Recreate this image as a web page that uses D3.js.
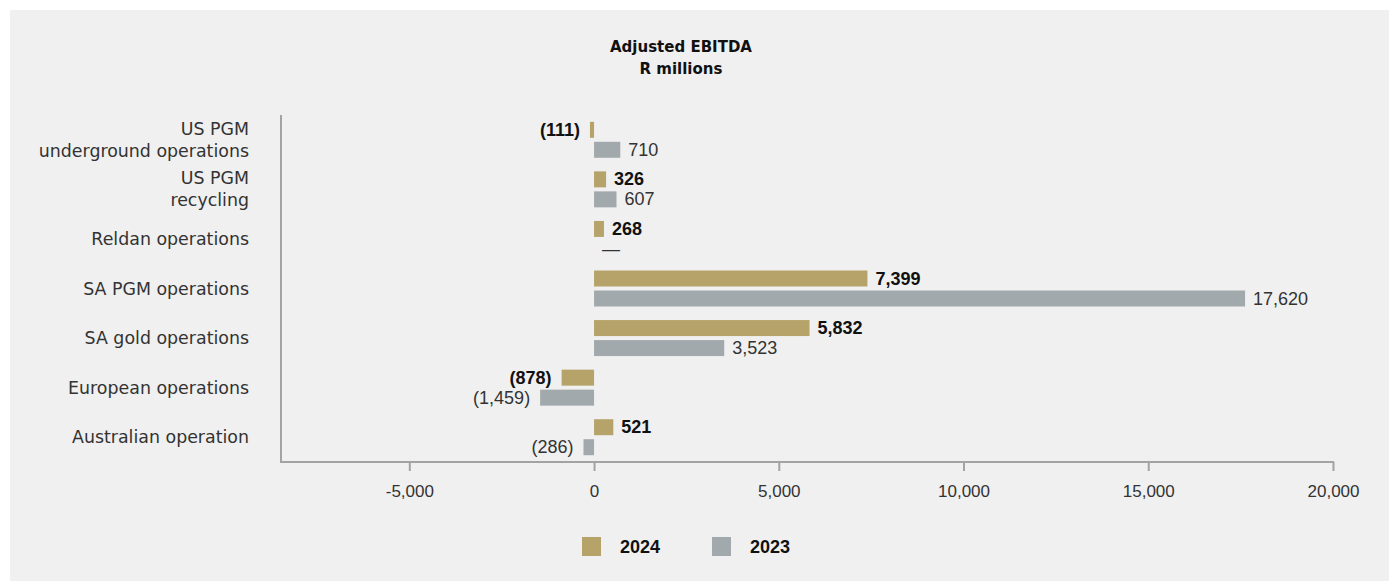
<!DOCTYPE html>
<html>

<head>
    <meta charset="utf-8">
    <style>
        body {
            margin: 0;
            background: white;
        }

        svg {
            display: block;
        }

        .x .domain {
            display: none;
        }

        .x .tick line {
            stroke: #a3a3a3;
            stroke-width: 2px;
        }

        .x .tick text {
            font-family: 'Liberation Sans', Arial, sans-serif;
            font-size: 17px;
            fill: #333;
        }

        .cat text {
            font-family: 'DejaVu Sans', sans-serif;
            font-size: 17.4px;
            fill: #333;
        }
    </style>
</head>

<body>
    <svg width="1389" height="581"></svg>
</body>

<script src="https://d3js.org/d3.v7.min.js"></script>

<script>

    // data
    let categories = [
        ["US PGM", "underground operations"],
        ["US PGM", "recycling"],
        ["Reldan operations"],
        ["SA PGM operations"],
        ["SA gold operations"],
        ["European operations"],
        ["Australian operation"]
    ]
    let values2024 = [-111, 326, 268, 7399, 5832, -878, 521]
    let values2023 = [710, 607, 0, 17620, 3523, -1459, -286]
    let seriesNames = ["2024", "2023"]
    let tickValues = [-5000, 0, 5000, 10000, 15000, 20000]
    let tickLabels = ["-5,000", "0", "5,000", "10,000", "15,000", "20,000"]

    let gold = "#b5a36a"
    let grey = "#a2a9ac"

    let svg = d3.select("svg")

    // grey panel
    svg.append("rect")
        .attr("x", 10)
        .attr("y", 10)
        .attr("width", 1379)
        .attr("height", 571)
        .style("fill", "#f0f0f0")

    let x = d3.scaleLinear()
        .domain([-8500, 20000])
        .range([280, 1333])

    let y = d3.scaleBand()
        .domain(d3.range(categories.length))
        .range([115, 462])

    let fmt = d3.format(",")
    function label(v) {
        if (v === 0) return "\u2014"
        if (v < 0) return "(" + fmt(-v) + ")"
        return fmt(v)
    }

    // axes lines
    svg.append("line")
        .attr("x1", 281).attr("x2", 281)
        .attr("y1", 115).attr("y2", 462)
        .style("stroke", "#a3a3a3")
        .style("stroke-width", 2)

    svg.append("line")
        .attr("x1", 280).attr("x2", x(20000) + 1)
        .attr("y1", 462).attr("y2", 462)
        .style("stroke", "#a3a3a3")
        .style("stroke-width", 2)

    let xAxis = d3.axisBottom(x)
        .tickValues(tickValues)
        .tickFormat((d, i) => tickLabels[i])
        .tickSize(9)
        .tickPadding(14)

    svg.append("g")
        .attr("class", "x axis")
        .attr("transform", "translate(0,462)")
        .call(xAxis)

    // category labels
    let cat = svg.append("g").attr("class", "cat")
    categories.forEach(function (lines, i) {
        let cy = y(i) + y.bandwidth() / 2
        let t = cat.append("text")
            .attr("text-anchor", "end")
            .attr("x", 249)
            .attr("y", cy)
        lines.forEach(function (line, j) {
            t.append("tspan")
                .attr("x", 249)
                .attr("y", cy + 6 + (j - (lines.length - 1) / 2) * 22)
                .text(line)
        })
    })

    // bars
    let barH = 16
    let series = [values2024, values2023]
    series.forEach(function (vals, s) {
        vals.forEach(function (v, i) {
            let cy = y(i) + y.bandwidth() / 2
            let top = s === 0 ? cy - 18 : cy + 2
            svg.append("rect")
                .attr("x", x(Math.min(0, v)))
                .attr("y", top)
                .attr("width", Math.abs(x(v) - x(0)))
                .attr("height", barH)
                .style("fill", s === 0 ? gold : grey)

            let neg = v < 0
            svg.append("text")
                .text(label(v))
                .attr("x", neg ? x(v) - 10 : x(v) + 8)
                .attr("y", top + barH / 2 + 6)
                .attr("text-anchor", neg ? "end" : "start")
                .attr("font-family", "'Liberation Sans', Arial, sans-serif")
                .attr("font-size", "18px")
                .attr("font-weight", s === 0 ? "bold" : "normal")
                .attr("fill", s === 0 ? "#111" : "#333")
        })
    })

    // title
    svg.append("text").text("Adjusted EBITDA")
        .attr("x", 681)
        .attr("y", 52)
        .attr("text-anchor", "middle")
        .attr("font-family", "'DejaVu Sans', sans-serif")
        .attr("font-size", "15px")
        .attr("font-weight", "bold")
        .attr("fill", "#111")

    svg.append("text").text("R millions")
        .attr("x", 681)
        .attr("y", 74)
        .attr("text-anchor", "middle")
        .attr("font-family", "'DejaVu Sans', sans-serif")
        .attr("font-size", "15px")
        .attr("font-weight", "bold")
        .attr("fill", "#111")

    // legend
    let legendX = [582, 712]
    seriesNames.forEach(function (name, i) {
        svg.append("rect")
            .attr("x", legendX[i])
            .attr("y", 537)
            .attr("width", 19)
            .attr("height", 19)
            .style("fill", i === 0 ? gold : grey)
        svg.append("text").text(name)
            .attr("x", legendX[i] + 38)
            .attr("y", 553)
            .attr("font-family", "'Liberation Sans', Arial, sans-serif")
            .attr("font-size", "18px")
            .attr("font-weight", "bold")
            .attr("fill", "#111")
    })

</script>

</html>
